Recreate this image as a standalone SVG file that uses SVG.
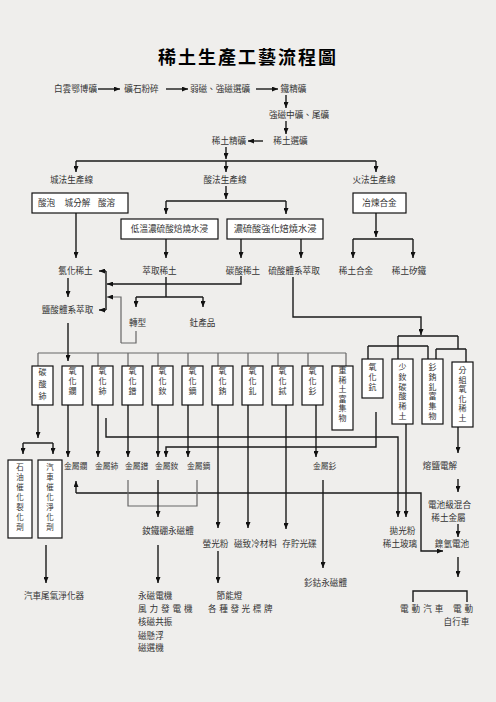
<svg xmlns="http://www.w3.org/2000/svg" width="496" height="702" viewBox="0 0 496 702">
<defs>
<style>
text{font-family:"Noto Sans CJK TC","Noto Sans CJK SC",sans-serif;fill:#333;font-size:8.6px;text-anchor:middle}
.s{text-anchor:start}
.m{font-size:7.8px}
.v{font-size:8px}
.v2{font-size:7.5px}
.title{font-size:18px;font-weight:bold;fill:#000;letter-spacing:2px}
.k{stroke:#1a1a1a;stroke-width:1.4;fill:none}
.g{stroke:#666;stroke-width:1.2;fill:none}
.bx{fill:#fff;stroke:#111;stroke-width:1.2}
.ar{marker-end:url(#a)}
</style>
<marker id="a" viewBox="0 0 6 5" refX="6" refY="2.5" markerWidth="6" markerHeight="5" markerUnits="userSpaceOnUse" orient="auto"><path d="M0,0L6,2.5L0,5z" fill="#111"/></marker>
</defs>
<rect width="496" height="702" fill="#efeeec"/>
<text class="title" x="248" y="63.5">稀土生產工藝流程圖</text>

<g id="connectors">
<path class="k ar" d="M98,89H120"/>
<path class="k ar" d="M166,89H188"/>
<path class="k ar" d="M256,89H278"/>
<path class="k ar" d="M286,95V108"/>
<path class="k ar" d="M286,121V134"/>
<path class="k ar" d="M263,141H248"/>
<path class="k ar" d="M226,147V159"/>
<path class="k" d="M76,161H376"/>
<path class="k ar" d="M76,161V172"/>
<path class="k ar" d="M226,161V172"/>
<path class="k ar" d="M376,161V172"/>
<path class="k ar" d="M226,186V199"/>
<path class="k" d="M166,201H286"/>
<path class="k ar" d="M166,201V214"/>
<path class="k ar" d="M286,201V214"/>
<path class="k ar" d="M76,213V258"/>
<path class="k ar" d="M166,239V258"/>
<path class="k ar" d="M241,239V258"/>
<path class="k ar" d="M301,239V258"/>
<path class="k ar" d="M376,213V237"/>
<path class="k" d="M353,239H413"/>
<path class="k ar" d="M353,239V258"/>
<path class="k ar" d="M413,239V258"/>
<path class="k ar" d="M68,278V297"/>
<path class="k" d="M106,271V310"/>
<path class="k ar" d="M106,271H99"/>
<path class="k ar" d="M106,310H99"/>
<path class="k ar" d="M241,276V284H107"/>
<path class="k" d="M166,277V297M136,297H203"/>
<path class="k ar" d="M136,297V307"/>
<path class="k ar" d="M203,297V307"/>
<path class="g ar" d="M121,343V297H107"/>
<path class="g" d="M136,331V343H121"/>
<path class="k ar" d="M293,277V317H421V335"/>
<path class="k" d="M398,336H458M398,336V359M458,336V349M436,349H466M436,349V359M466,349V362"/>
<path class="k" d="M368,346H428M368,346V359M428,346V359"/>
<path class="g" d="M38,353H346M38,353V366M98,353V366M128,353V366M158,353V366M188,353V366M218,353V366M248,353V366M278,353V366M308,353V366M346,353V366"/>
<path class="k ar" d="M68,323V361"/>
<path class="k ar" d="M38,405V438"/>
<path class="k" d="M23,443H53"/>
<path class="k ar" d="M23,443V454"/>
<path class="k ar" d="M53,443V454"/>
<path class="k ar" d="M68,405V457"/>
<path class="k ar" d="M98,405V457"/>
<path class="k ar" d="M128,405V457"/>
<path class="k ar" d="M158,405V457"/>
<path class="k ar" d="M188,405V457"/>
<path class="k ar" d="M106,418V437H398V517"/>
<path class="k ar" d="M376,412V447H166V457"/>
<path class="k ar" d="M406,424V517"/>
<path class="k ar" d="M218,405V528"/>
<path class="k ar" d="M248,405V528"/>
<path class="k ar" d="M286,405V529"/>
<path class="k ar" d="M316,405V457"/>
<path class="k ar" d="M76,493V481"/>
<path class="k ar" d="M76,493H421V551H443"/>
<path class="g" d="M128,480V506H197V480"/>
<path class="k ar" d="M158,480V517"/>
<path class="k ar" d="M158,545V583"/>
<path class="k ar" d="M218,551V583"/>
<path class="k ar" d="M323,480V568"/>
<path class="k ar" d="M46,545V583"/>
<path class="k ar" d="M458,427V453"/>
<path class="k ar" d="M458,479V492"/>
<path class="k ar" d="M458,524V537"/>
<path class="k ar" d="M458,557V577"/>
<path class="k" d="M413,602V591H467V602"/>
</g>

<g id="n-baiyun"><text x="75.5" y="92">白雲鄂博礦</text></g>
<g id="n-fensui"><text x="141.5" y="92">礦石粉碎</text></g>
<g id="n-xuankuang"><text x="220" y="92">弱磁、強磁選礦</text></g>
<g id="n-tiejing"><text x="293.5" y="92">鐵精礦</text></g>
<g id="n-zhongkuang"><text x="299" y="118">強磁中礦、尾礦</text></g>
<g id="n-xitu-xuan"><text x="290.5" y="144">稀土選礦</text></g>
<g id="n-xitu-jing"><text x="229" y="144">稀土精礦</text></g>
<g id="n-jian"><text x="71.5" y="183">城法生產線</text></g>
<g id="n-suan"><text x="225" y="183">酸法生產線</text></g>
<g id="n-huo"><text x="374" y="183">火法生產線</text></g>
<g id="n-jianbox"><rect class="bx" x="32" y="193" width="96" height="20"/><text x="46.5" y="206">酸泡</text><text x="77.5" y="206">城分解</text><text x="106.5" y="206">酸溶</text></g>
<g id="n-yelian"><rect class="bx" x="353" y="193" width="53" height="20"/><text x="379.5" y="206">冶煉合金</text></g>
<g id="n-diwen"><rect class="bx" x="121" y="219" width="97" height="20"/><text x="169.5" y="232">低溫濃硫酸焙燒水浸</text></g>
<g id="n-nong"><rect class="bx" x="227" y="219" width="96" height="20"/><text x="275" y="232" style="font-size:9.2px">濃硫酸強化焙燒水浸</text></g>
<g id="n-luhua"><text x="75.5" y="274">氯化稀土</text></g>
<g id="n-cuiqu"><text x="159.5" y="274">萃取稀土</text></g>
<g id="n-tansuan"><text x="243" y="274">碳酸稀土</text></g>
<g id="n-liusuan"><text x="294" y="274">硫酸體系萃取</text></g>
<g id="n-hejin"><text x="356" y="274">稀土合金</text></g>
<g id="n-guitie"><text x="409" y="274">稀土矽鐵</text></g>
<g id="n-yansuan"><text x="67.5" y="313">鹽酸體系萃取</text></g>
<g id="n-zhuanxing"><text x="137.5" y="326">轉型</text></g>
<g id="n-tu"><text x="202.5" y="326">釷產品</text></g>

<g id="n-b1"><rect class="bx" x="32" y="366" width="21" height="39"/><text class="v"><tspan x="42.5" y="375">碳</tspan><tspan x="42.5" y="387">酸</tspan><tspan x="42.5" y="399">鈰</tspan></text></g>
<g id="n-b2"><rect class="bx" x="62" y="366" width="21" height="39"/><text class="v"><tspan x="72.5" y="374">氧</tspan><tspan x="72.5" y="384">化</tspan><tspan x="72.5" y="394">鑭</tspan></text></g>
<g id="n-b3"><rect class="bx" x="92" y="366" width="21" height="39"/><text class="v"><tspan x="102.5" y="374">氧</tspan><tspan x="102.5" y="384">化</tspan><tspan x="102.5" y="394">鈰</tspan></text></g>
<g id="n-b4"><rect class="bx" x="122" y="366" width="21" height="39"/><text class="v"><tspan x="132.5" y="374">氧</tspan><tspan x="132.5" y="384">化</tspan><tspan x="132.5" y="394">鐠</tspan></text></g>
<g id="n-b5"><rect class="bx" x="152" y="366" width="21" height="39"/><text class="v"><tspan x="162.5" y="374">氧</tspan><tspan x="162.5" y="384">化</tspan><tspan x="162.5" y="394">釹</tspan></text></g>
<g id="n-b6"><rect class="bx" x="182" y="366" width="21" height="39"/><text class="v"><tspan x="192.5" y="374">氧</tspan><tspan x="192.5" y="384">化</tspan><tspan x="192.5" y="394">鏑</tspan></text></g>
<g id="n-b7"><rect class="bx" x="212" y="366" width="21" height="39"/><text class="v"><tspan x="222.5" y="374">氧</tspan><tspan x="222.5" y="384">化</tspan><tspan x="222.5" y="394">銪</tspan></text></g>
<g id="n-b8"><rect class="bx" x="242" y="366" width="21" height="39"/><text class="v"><tspan x="252.5" y="374">氧</tspan><tspan x="252.5" y="384">化</tspan><tspan x="252.5" y="394">釓</tspan></text></g>
<g id="n-b9"><rect class="bx" x="272" y="366" width="21" height="39"/><text class="v"><tspan x="282.5" y="374">氧</tspan><tspan x="282.5" y="384">化</tspan><tspan x="282.5" y="394">鋱</tspan></text></g>
<g id="n-b10"><rect class="bx" x="302" y="366" width="21" height="39"/><text class="v"><tspan x="312.5" y="374">氧</tspan><tspan x="312.5" y="384">化</tspan><tspan x="312.5" y="394">釤</tspan></text></g>
<g id="n-b11"><rect class="bx" x="332" y="366" width="21" height="64"/><text class="v"><tspan x="342.5" y="373">重</tspan><tspan x="342.5" y="382.5">稀</tspan><tspan x="342.5" y="392">土</tspan><tspan x="342.5" y="401.5">富</tspan><tspan x="342.5" y="411">集</tspan><tspan x="342.5" y="420.5">物</tspan></text></g>

<g id="n-ra"><rect class="bx" x="362" y="359" width="21" height="39"/><text class="v"><tspan x="372.5" y="370">氧</tspan><tspan x="372.5" y="380">化</tspan><tspan x="372.5" y="390">鈧</tspan></text></g>
<g id="n-rb"><rect class="bx" x="392" y="359" width="21" height="65"/><text class="v"><tspan x="402.5" y="370">少</tspan><tspan x="402.5" y="379.8">釹</tspan><tspan x="402.5" y="389.6">碳</tspan><tspan x="402.5" y="399.4">酸</tspan><tspan x="402.5" y="409.2">稀</tspan><tspan x="402.5" y="419">土</tspan></text></g>
<g id="n-rc"><rect class="bx" x="422" y="359" width="21" height="65"/><text class="v"><tspan x="432.5" y="370">釤</tspan><tspan x="432.5" y="379.8">銪</tspan><tspan x="432.5" y="389.6">釓</tspan><tspan x="432.5" y="399.4">富</tspan><tspan x="432.5" y="409.2">集</tspan><tspan x="432.5" y="419">物</tspan></text></g>
<g id="n-rd"><rect class="bx" x="452" y="362" width="21" height="65"/><text class="v"><tspan x="462.5" y="373">分</tspan><tspan x="462.5" y="382.6">組</tspan><tspan x="462.5" y="392.2">氧</tspan><tspan x="462.5" y="401.8">化</tspan><tspan x="462.5" y="411.4">稀</tspan><tspan x="462.5" y="421">土</tspan></text></g>

<g id="n-shiyou"><rect class="bx" x="8" y="460" width="24" height="78"/><text class="v2"><tspan x="20" y="470">石</tspan><tspan x="20" y="480">油</tspan><tspan x="20" y="490">催</tspan><tspan x="20" y="500">化</tspan><tspan x="20" y="510">裂</tspan><tspan x="20" y="520">化</tspan><tspan x="20" y="530">劑</tspan></text></g>
<g id="n-qiche"><rect class="bx" x="38" y="460" width="24" height="78"/><text class="v2"><tspan x="50" y="470">汽</tspan><tspan x="50" y="480">車</tspan><tspan x="50" y="490">催</tspan><tspan x="50" y="500">化</tspan><tspan x="50" y="510">淨</tspan><tspan x="50" y="520">化</tspan><tspan x="50" y="530">劑</tspan></text></g>

<g id="n-la"><text class="s m" x="64" y="469">金屬鑭</text></g>
<g id="n-ce"><text class="s m" x="95" y="469">金屬鈰</text></g>
<g id="n-pr"><text class="s m" x="125" y="469">金屬鐠</text></g>
<g id="n-nd"><text class="s m" x="155" y="469">金屬釹</text></g>
<g id="n-dy"><text class="s m" x="187" y="469">金屬鏑</text></g>
<g id="n-sm"><text class="s m" x="313" y="469">金屬釤</text></g>
<g id="n-rongyan"><text x="440" y="469">熔鹽電解</text></g>
<g id="n-dianchiji"><text x="449.5" y="508">電池級混合</text><text x="448.5" y="521">稀土金屬</text></g>
<g id="n-niqing"><text x="452" y="547">鎳氫電池</text></g>
<g id="n-ndfeb"><text x="168" y="534">釹鐵硼永磁體</text></g>
<g id="n-paoguang"><text x="402.5" y="534">拋光粉</text><text x="400" y="547">稀土玻璃</text></g>
<g id="n-yingguang"><text x="215.5" y="547">螢光粉</text></g>
<g id="n-cizhi"><text x="255.5" y="547">磁致冷材料</text></g>
<g id="n-guangdie"><text x="299.5" y="547">存貯光碟</text></g>
<g id="n-smco"><text x="325.5" y="586">釤鈷永磁體</text></g>
<g id="n-weiqi"><text x="54" y="599">汽車尾氣淨化器</text></g>
<g id="n-yongci"><text class="s" x="138" y="599">永磁電機</text><text class="s" x="138" y="612" style="letter-spacing:2.9px">風力發電機</text><text class="s" x="138" y="625">核磁共振</text><text class="s" x="138" y="639">磁懸浮</text><text class="s" x="138" y="651">磁選機</text></g>
<g id="n-jieneng"><text x="229.5" y="599">節能燈</text><text class="s" x="208" y="612" style="letter-spacing:2.6px">各種發光標牌</text></g>
<g id="n-diandong"><text class="s" x="400" y="612" style="letter-spacing:3px">電動汽車</text><text class="s" x="453" y="612" style="letter-spacing:3px">電動</text><text x="456.5" y="625">自行車</text></g>
</svg>
